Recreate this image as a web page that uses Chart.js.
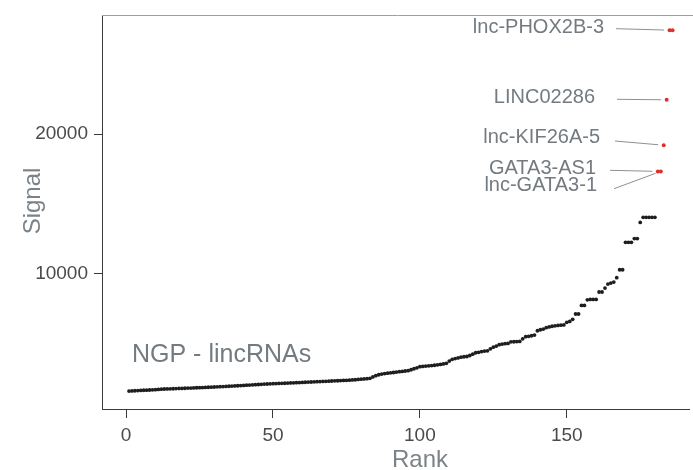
<!DOCTYPE html>
<html>
<head>
<meta charset="utf-8">
<script src="https://cdn.jsdelivr.net/npm/chart.js@4"></script>
<style>
  html, body { margin: 0; padding: 0; background: #fff; }
  #wrap { width: 693px; height: 470px; }
</style>
</head>
<body>
<div id="wrap"><canvas id="rankChart" width="693" height="470"></canvas></div>
<script>
// signal of lincRNAs ordered by rank (rank 1 .. 180)
const signalOther = [
  1550,1560,1570,1585,1595,1605,1615,1625,1640,1650,1665,1680,1695,
  1700,1710,1715,1725,1735,1740,1750,1760,1765,1775,1785,1790,1800,1810,1820,1830,1840,1850,1860,
  1870,1880,1895,1905,1920,1930,1945,1955,1970,1980,1995,2005,2020,2035,2050,
  2055,2065,2075,2085,2095,2100,2110,2120,2130,2140,2150,2160,2170,2180,2190,2200,2210,2220,
  2230,2240,2250,2260,2270,2280,2290,2300,2310,2320,2330,2345,2360,2380,2400,2420,2440,2460,
  2560,2650,2720,2770,2800,2830,2860,2880,2910,2940,2960,2990,3010,3080,3150,3220,3300,
  3320,3340,3360,3380,3400,3430,3460,3500,3540,3700,3830,
  3880,3930,3980,4010,4030,4100,4200,4300,
  4330,4380,4420,4440,4580,4700,4780,4880,4920,4950,4970,5080,
  5090,5100,5110,5300,5450,5480,5520,5570,5880,
  5950,6000,6100,6150,6200,6230,6260,6280,6300,
  6480,6550,6700,7080,7080,7700,7700,8100,8130,8130,8130,8660,8660,8940,9230,9300,9375,9690,
  10260,10260,12230,12230,12230,12500,12500,13660,14020,14020,14020,14020,14020
];

// highlighted top lincRNAs
const topRanks = [181, 182, 183, 184, 185, 186];
const topSignal = [17320, 17320, 19200, 22460, 27460, 27460];

// labelled genes and the rank they point at
const labelNames = ['lnc-PHOX2B-3', 'LINC02286', 'lnc-KIF26A-5', 'GATA3-AS1', 'lnc-GATA3-1'];
const labelRanks = [185, 184, 183, 181, 182];

const xTicks = [0, 50, 100, 150];
const yTicks = [10000, 20000];

// repelled label placement (text right edge, text middle, line start) in px
const labelLayout = [
  { tx: 604, ty: 27,  lx: 616, ly: 28.7 },
  { tx: 595, ty: 97.5, lx: 617, ly: 99.3 },
  { tx: 600, ty: 137, lx: 615, ly: 141 },
  { tx: 596, ty: 168.5, lx: 610, ly: 170.3 },
  { tx: 597, ty: 185, lx: 614, ly: 188.7 }
];

const FONT = '"Liberation Sans", Arial, Helvetica, sans-serif';
const GREY_TEXT = '#737b80';
const AXIS = '#3a3a3a';

const otherPoints = signalOther.map((v, i) => ({ x: i + 1, y: v }));
const topPoints = topRanks.map((r, i) => ({ x: r, y: topSignal[i] }));

const decor = {
  id: 'decor',
  afterDraw(chart) {
    const { ctx, chartArea, scales } = chart;
    ctx.save();
    // top border of the panel
    ctx.strokeStyle = '#9aa0a5';
    ctx.lineWidth = 1;
    ctx.beginPath();
    ctx.moveTo(chartArea.left, chartArea.top + 0.5);
    ctx.lineTo(chart.width, chartArea.top + 0.5);
    ctx.stroke();

    // gene labels with connector lines
    ctx.font = '20px ' + FONT;
    ctx.fillStyle = GREY_TEXT;
    ctx.textAlign = 'right';
    ctx.textBaseline = 'middle';
    labelNames.forEach((name, i) => {
      const lay = labelLayout[i];
      const idx = topRanks.indexOf(labelRanks[i]);
      const px = scales.x.getPixelForValue(labelRanks[i]);
      const py = scales.y.getPixelForValue(topSignal[idx]);
      const dx = px - lay.lx, dy = py - lay.ly;
      const len = Math.sqrt(dx * dx + dy * dy);
      const ex = px - dx / len * 5.5, ey = py - dy / len * 5.5;
      ctx.strokeStyle = '#8a9196';
      ctx.lineWidth = 1;
      ctx.beginPath();
      ctx.moveTo(lay.lx, lay.ly);
      ctx.lineTo(ex, ey);
      ctx.stroke();
      ctx.fillText(name, lay.tx, lay.ty);
    });

    // panel tag
    ctx.textAlign = 'left';
    ctx.font = '25px ' + FONT;
    ctx.fillText('NGP - lincRNAs', 132, 355);

    // axis titles
    ctx.font = '24px ' + FONT;
    ctx.fillStyle = '#7b8388';
    ctx.textAlign = 'center';
    ctx.fillText('Rank', 420, 460);
    ctx.translate(33, 201);
    ctx.rotate(-Math.PI / 2);
    ctx.fillText('Signal', 0, 0);
    ctx.restore();
  }
};

new Chart(document.getElementById('rankChart').getContext('2d'), {
  type: 'scatter',
  data: {
    datasets: [
      { label: 'lincRNAs', data: otherPoints, backgroundColor: '#1e1e1e', borderWidth: 0, pointRadius: 1.9 },
      { label: 'top', data: topPoints, backgroundColor: '#e0302a', borderWidth: 0, pointRadius: 2 }
    ]
  },
  options: {
    responsive: false,
    animation: false,
    layout: { padding: { top: 15, right: 0, left: 0, bottom: 0 } },
    plugins: { legend: { display: false }, tooltip: { enabled: false } },
    scales: {
      x: {
        type: 'linear',
        min: -8.2, max: 191.6,
        afterBuildTicks: s => { s.ticks = xTicks.map(v => ({ value: v })); },
        afterFit: s => { s.height = 61; s.paddingLeft = 0; s.paddingRight = 0; },
        grid: { display: true, drawOnChartArea: false, drawTicks: true, tickLength: 9, color: AXIS },
        border: { display: true, color: AXIS, width: 1 },
        ticks: { color: '#4a4a4a', font: { size: 19, family: FONT }, padding: 6, maxRotation: 0 }
      },
      y: {
        type: 'linear',
        min: 260, max: 28550,
        afterBuildTicks: s => { s.ticks = yTicks.map(v => ({ value: v })); },
        afterFit: s => { s.width = 102; s.paddingTop = 0; s.paddingBottom = 0; },
        grid: { display: true, drawOnChartArea: false, drawTicks: true, tickLength: 8, color: AXIS },
        border: { display: true, color: AXIS, width: 1 },
        ticks: { color: '#4a4a4a', font: { size: 19, family: FONT }, padding: 6, callback: v => String(v) }
      }
    }
  },
  plugins: [decor]
});
</script>
</body>
</html>
